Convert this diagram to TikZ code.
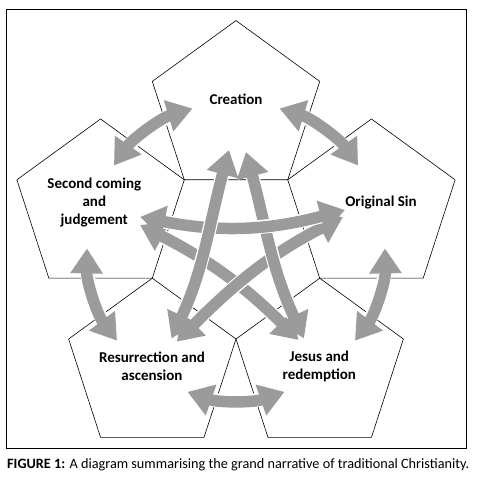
\documentclass[tikz,border=0pt]{standalone}
\usepackage{fontspec}
\setmainfont{Carlito}
\usepackage{xcolor}
\usetikzlibrary{calc,arrows.meta}
\definecolor{arrowgray}{RGB}{155,155,155}
\tikzset{
  penta/.style={black, line width=0.6pt},
  stage/.style={font=\fontsize{15}{18}\selectfont\bfseries, align=center, inner sep=0pt},
  bigarrow/.style={arrowgray, line width=11.5pt, >={Triangle[width=31pt,length=25pt]}, <->,
    preaction={draw=white, line width=14pt, arrows=-, shorten <=17pt, shorten >=17pt}}
}

\begin{document}
\begin{tikzpicture}[x=1pt,y=1pt]
    \useasboundingbox (0,0) rectangle (478,478);
    % frame and caption
    \draw[line width=0.9pt] (6.7,30) rectangle (466.3,468.7);
    \node[anchor=base west, inner sep=0pt, font=\fontsize{14.25}{17}\selectfont] (caption) at (7,9.7)
        {\textbf{FIGURE 1:} A diagram summarising the grand narrative of traditional Christianity.};
    % ring of pentagons round the middle one
    \coordinate (ctr) at (236,227);
    \foreach \name/\ang in {cre/90, sin/18, jes/-54, res/-126, sec/162}
        \coordinate (\name) at ($(ctr)+(\ang:142.4)$);
    \foreach \name in {cre,sin,jes,res,sec}
        \draw[penta] ($(\name)+(90:88)$) -- ($(\name)+(162:88)$) -- ($(\name)+(234:88)$)
            -- ($(\name)+(306:88)$) -- ($(\name)+(18:88)$) -- cycle;
    % labels
    \node[stage] (creation) at (236,379) {Creation};
    \node[stage] (second) at (94.3,275) {Second coming\\and\\judgement};
    \node[stage] (original) at (381,275) {Original Sin};
    \node[stage] (resurrection) at (152,112) {Resurrection and\\ascension};
    \node[stage] (jesus) at (319.3,112) {Jesus and\\redemption};
    % arrows between neighbours: arcs round the centre
    \foreach \pair/\ang in {sc/126, cs/54, sj/-18, jr/-90, rs/198} {
        \coordinate (\pair a) at ($(ctr)+(\ang-19:149)$);
        \draw[bigarrow] (\pair a) arc[start angle=\ang-19, end angle=\ang+19, radius=149];
    }
    % arrows across the star
    \coordinate (sj1) at (140,253);   \coordinate (sj2) at (298.5,138);
    \coordinate (or1) at (343,261);   \coordinate (or2) at (176.7,136.3);
    \coordinate (cj1) at (246,326);   \coordinate (cj2) at (304,139.5);
    \coordinate (so1) at (140,261);   \coordinate (so2) at (345,268);
    \coordinate (cr1) at (229,328);   \coordinate (cr2) at (171.5,139.5);
    \draw[bigarrow] (sj1) to[out=-27, in=135] (sj2);
    \draw[bigarrow] (or1) to[out=207, in=45] (or2);
    \draw[bigarrow] (cj1) to[out=285, in=115] (cj2);
    \draw[bigarrow] (so1) to[out=-11, in=195] (so2);
    \draw[bigarrow] (cr1) to[out=255, in=65] (cr2);
\end{tikzpicture}
\end{document}
